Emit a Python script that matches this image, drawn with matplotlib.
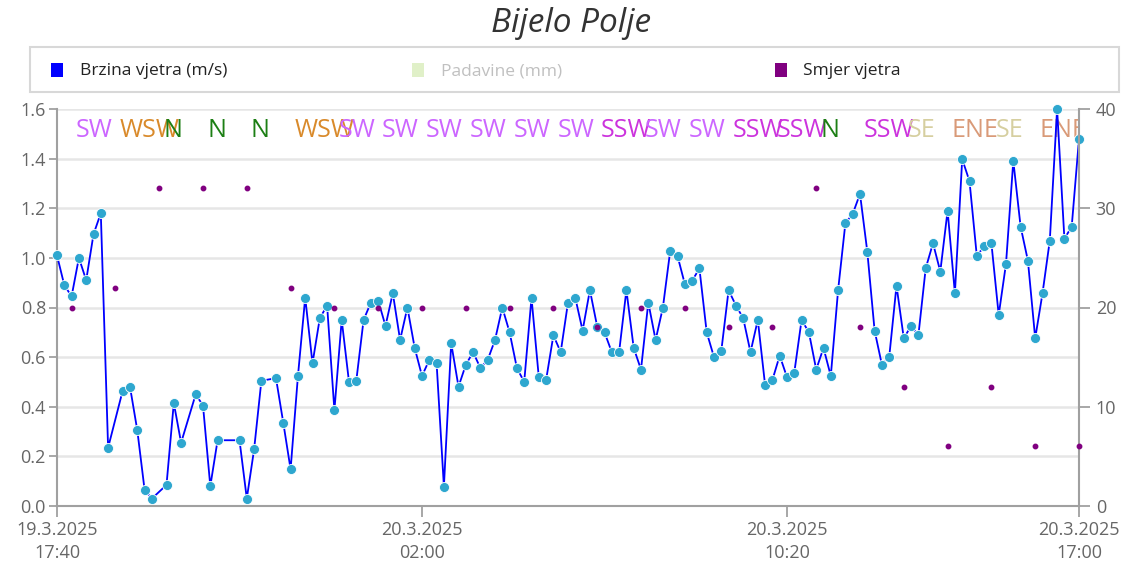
import matplotlib
matplotlib.use("Agg")
import matplotlib.pyplot as plt
import matplotlib.dates as mdates
import matplotlib.transforms as mtransforms
from matplotlib.patches import Rectangle
import numpy as np
import pandas as pd

# brzina vjetra (m/s), svakih 10 minuta od 19.3.2025 17:40 (None = nema podatka)
brzina = [
    1.01, 0.89, 0.845, 1.00, 0.91, 1.095, 1.18, 0.235, None, 0.465,
    0.48, 0.305, 0.065, 0.03, None, 0.085, 0.415, 0.255, None, 0.45,
    0.405, 0.08, 0.265, None, None, 0.265, 0.03, 0.228, 0.505, None,
    0.515, 0.335, 0.148, 0.522, 0.84, 0.575, 0.757, 0.808, 0.386, 0.75,
    0.50, 0.505, 0.75, 0.82, 0.828, 0.726, 0.858, 0.669, 0.80, 0.637,
    0.524, 0.589, 0.575, 0.078, 0.656, 0.481, 0.569, 0.62, 0.556, 0.589,
    0.669, 0.80, 0.70, 0.556, 0.50, 0.839, 0.519, 0.508, 0.688, 0.62,
    0.82, 0.839, 0.707, 0.87, 0.723, 0.70, 0.62, 0.62, 0.87, 0.637,
    0.55, 0.82, 0.669, 0.80, 1.028, 1.008, 0.895, 0.907, 0.958, 0.70,
    0.60, 0.625, 0.87, 0.808, 0.757, 0.62, 0.75, 0.487, 0.508, 0.606,
    0.519, 0.538, 0.75, 0.70, 0.55, 0.637, 0.524, 0.87, 1.14, 1.177,
    1.258, 1.025, 0.707, 0.569, 0.60, 0.888, 0.676, 0.726, 0.688, 0.958,
    1.059, 0.945, 1.19, 0.857, 1.398, 1.309, 1.008, 1.046, 1.059, 0.77,
    0.976, 1.391, 1.126, 0.989, 0.676, 0.857, 1.07, 1.60, 1.077, 1.126,
    1.479,
]

# smjer vjetra, svaki sat od 18:00
smjer_vrijednost = [20, 22, 32, 32, 32, 22, 20, 20, 20, 20, 20, 20,
                    18, 20, 20, 18, 18, 32, 18, 12, 6, 12, 6, 6]
smjer_oznaka = ["SW", "WSW", "N", "N", "N", "WSW", "SW", "SW", "SW", "SW", "SW", "SW",
                "SSW", "SW", "SW", "SSW", "SSW", "N", "SSW", "SE", "ENE", "SE", "ENE", "ENE"]
boje_smjera = {"SW": "#CC66FF", "WSW": "#D98A2B", "N": "#1C7F14",
               "SSW": "#CC33DD", "SE": "#D6CFA0", "ENE": "#D99A78"}

x_oznake = ["19.3.2025\n17:40", "20.3.2025\n02:00", "20.3.2025\n10:20", "20.3.2025\n17:00"]


def main():
    plt.rcParams["font.family"] = ["Open Sans", "DejaVu Sans"]

    vrijeme = pd.date_range("2025-03-19 17:40", "2025-03-20 17:00", freq="10min")
    s = pd.Series(brzina, index=vrijeme, dtype=float).dropna()
    vrijeme_smjer = pd.date_range("2025-03-19 18:00", periods=len(smjer_vrijednost), freq="h")

    fig = plt.figure(figsize=(11.31, 5.62), dpi=100, facecolor="white")
    ax = fig.add_axes([57 / 1131, 1 - 506 / 562, (1079 - 57) / 1131, (506 - 109) / 562])
    ax2 = ax.twinx()

    grid_c = "#E6E6E6"
    axis_c = "#A0A0A0"
    txt_c = "#666666"

    ax.set_ylim(0, 1.6)
    ax.set_yticks(np.arange(0, 1.61, 0.2))
    ax.set_yticklabels([f"{v:.1f}" for v in np.arange(0, 1.61, 0.2)])
    ax.grid(axis="y", color=grid_c, lw=1.8)
    ax.set_axisbelow(True)
    ax.set_xlim(vrijeme[0], vrijeme[-1])

    ax2.set_ylim(0, 40)
    ax2.set_yticks([0, 10, 20, 30, 40])

    # oznake smjera na vrhu, malo udesno od točke
    tr = mtransforms.blended_transform_factory(ax.transData, ax.transAxes) + \
        mtransforms.ScaledTranslation(4 / 100, 0, fig.dpi_scale_trans)
    for t, lab in zip(vrijeme_smjer, smjer_oznaka):
        ax.text(mdates.date2num(t), 0.947, lab, transform=tr, color=boje_smjera[lab],
                fontsize=18, ha="left", va="center", clip_on=True, zorder=1)

    ax.plot(s.index, s.values, color="#0000FF", lw=1.3, zorder=4, clip_on=False)
    ax.plot(s.index, s.values, linestyle="none", marker="o", ms=7.2, mfc="#2EA7CF",
            mec="white", mew=0.6, zorder=5, clip_on=False)

    ax2.plot(vrijeme_smjer, smjer_vrijednost, linestyle="none", marker="o", ms=3.2,
             color="#800080", zorder=3, clip_on=False)

    ax.set_xticks([vrijeme[0], vrijeme[50], vrijeme[100], vrijeme[-1]])
    ax.set_xticklabels(x_oznake, linespacing=1.35)

    for a in (ax, ax2):
        for sp in a.spines.values():
            sp.set_visible(False)
        a.tick_params(colors=axis_c, labelcolor=txt_c, labelsize=13, width=1.3)
    for a, side in ((ax, "left"), (ax, "bottom"), (ax2, "right")):
        a.spines[side].set_visible(True)
        a.spines[side].set_color(axis_c)
        a.spines[side].set_linewidth(1.5)
    ax.tick_params(axis="y", length=6, pad=2)
    ax.tick_params(axis="x", length=8, pad=3)
    ax2.tick_params(axis="y", length=8, pad=4)

    # naslov
    fig.text(571 / 1131, 1 - 23 / 562, "Bijelo Polje", ha="center", va="center",
             fontsize=24, style="italic", color="#333333")

    # legenda
    fig.add_artist(Rectangle((30 / 1131, 1 - 92 / 562), (1119 - 30) / 1131, 45 / 562,
                             transform=fig.transFigure, fill=False, ec="#D8D8D8", lw=1.5))
    legenda = [("Brzina vjetra (m/s)", "#0000FF", "#222222", 51, 80),
               ("Padavine (mm)", "#E0F0C8", "#C0C0C0", 412, 441),
               ("Smjer vjetra", "#800080", "#222222", 775, 803)]
    for lab, c, tc, xs, xt in legenda:
        fig.add_artist(Rectangle((xs / 1131, 1 - 77 / 562), 12 / 1131, 14 / 562,
                                 transform=fig.transFigure, color=c, lw=0))
        fig.text(xt / 1131, 1 - 71 / 562, lab, ha="left", va="center", fontsize=12.5, color=tc)

    fig.savefig("out.png", dpi=100, facecolor="white")


if __name__ == "__main__":
    main()
